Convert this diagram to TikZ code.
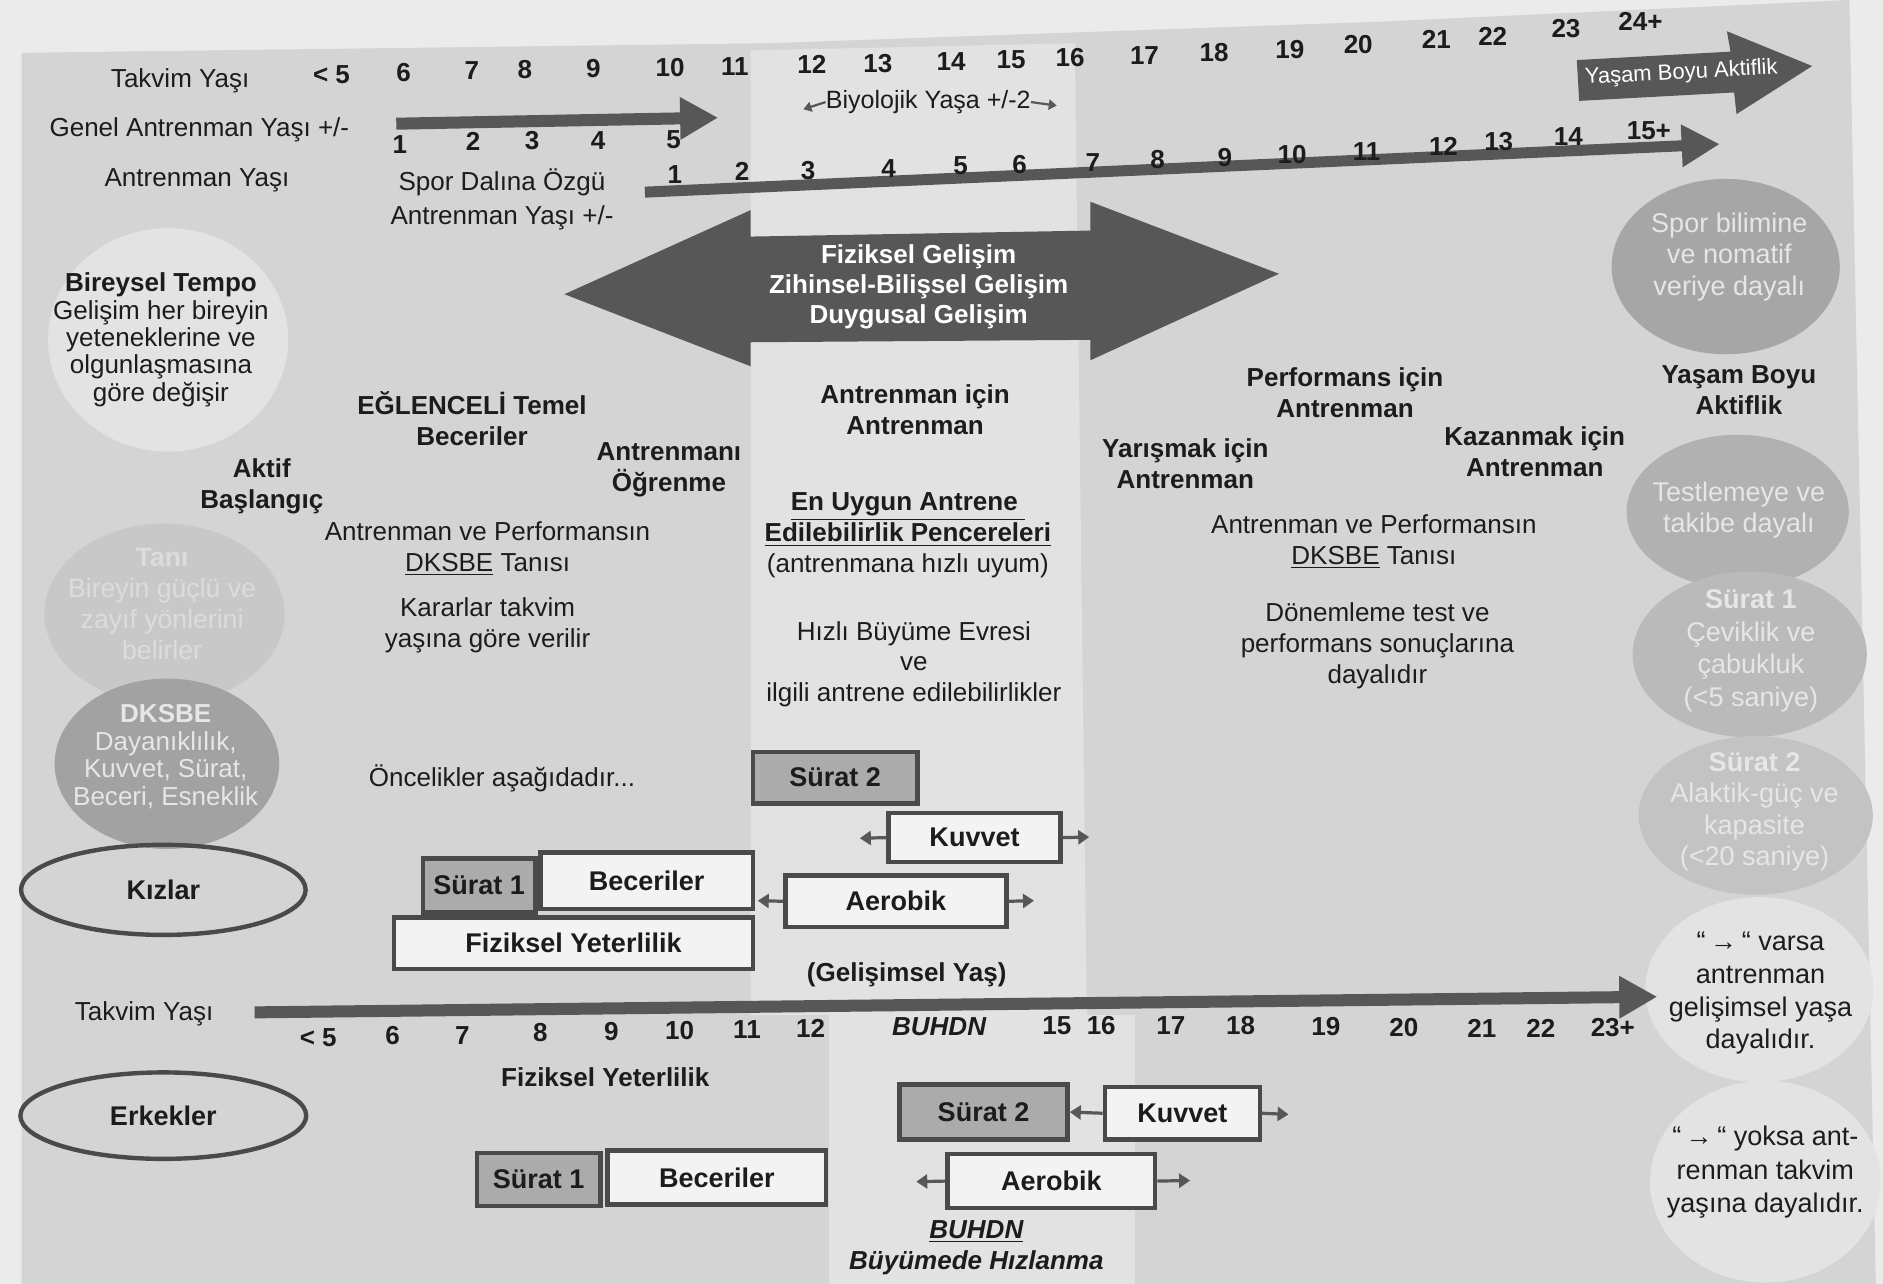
\documentclass[tikz,border=0pt]{standalone}
\usepackage{fontspec}
\setmainfont{Liberation Sans}
\usetikzlibrary{arrows.meta,shapes.geometric}
\definecolor{pagebg}{HTML}{EBEBEB}
\definecolor{panel}{HTML}{D4D4D4}
\definecolor{lightband}{HTML}{E2E2E2}
\definecolor{darkarrow}{HTML}{575757}
\definecolor{ink}{HTML}{1C1C1C}
\definecolor{boxline}{HTML}{4A4A4A}
\definecolor{grayfill}{HTML}{ABABAB}
\definecolor{boxwhite}{HTML}{F3F3F3}
\definecolor{blobLight}{HTML}{E3E3E3}
\definecolor{blobTani}{HTML}{C8C8C8}
\definecolor{blobDk}{HTML}{A2A2A2}
\definecolor{blobSpor}{HTML}{A6A6A6}
\definecolor{blobTest}{HTML}{B1B1B1}
\definecolor{blobSa}{HTML}{BABABA}
\definecolor{blobSb}{HTML}{C3C3C3}
\definecolor{faint}{HTML}{DCDCDC}
\definecolor{paletxt}{HTML}{E6E6E6}
\newcommand\myfs{\fontsize{13}{15.5}\selectfont}
\newcommand\mylg{\fontsize{13.5}{16}\selectfont}
\begin{document}
\begin{tikzpicture}[x=0.6pt,y=-0.6pt,
  txt/.style={font=\myfs,text=ink,align=center,inner sep=0pt},
  btxt/.style={font=\myfs\bfseries,text=ink,align=center,inner sep=0pt},
  num/.style={font=\myfs\bfseries,text=ink,inner sep=0pt},
  bigarr/.style={draw=darkarrow,line width=6pt,-{Triangle[length=19pt,width=20pt]}},
  sarr/.style={draw=darkarrow,line width=1.6pt,-{Triangle[length=5.5pt,width=7pt]}},
  tarr/.style={draw=darkarrow,line width=1.1pt,-{Triangle[length=4pt,width=5pt]}},
  sz/.style 2 args={minimum width=#1*0.6pt,minimum height=#2*0.6pt},
  box/.style={draw=boxline,line width=2.2pt,font=\mylg\bfseries,text=ink,inner sep=0pt},
  wbox/.style={box,fill=boxwhite},
  gbox/.style={box,fill=grayfill},
  blob/.style={ellipse,inner sep=0pt},
  oval/.style={ellipse,draw=boxline,line width=2.2pt,font=\mylg\bfseries,text=ink,inner sep=0pt}
]
\useasboundingbox (0,0) rectangle (1568,1069);
% ---------- background ----------
\fill[pagebg] (0,0) rectangle (1568,1069);
\fill[panel] (18,44) -- (640,36) -- (1150,18) -- (1540,0) -- (1562,1069) -- (18,1069) -- cycle;
\fill[lightband] (625,42) -- (895,36) -- (905,845) -- (625,845) -- cycle;
\fill[lightband] (690,845) rectangle (945,1069);

% ---------- circles ----------
\node[blob,fill=blobLight,sz={200}{186}] (cBir) at (140,283) {};
\node[blob,fill=blobTani,sz={200}{150}] (cTani) at (137,511) {};
\node[blob,fill=blobDk,sz={187}{142}] (cDk) at (139,636) {};
\node[blob,fill=blobSpor,sz={190}{146}] (cSpor) at (1437,222) {};
\node[blob,fill=blobTest,sz={185}{128}] (cTest) at (1447,426) {};
\node[blob,fill=blobSa,sz={195}{138}] (cSa) at (1457,545) {};
\node[blob,fill=blobSb,sz={195}{132}] (cSb) at (1462,679) {};
\node[blob,fill=blobLight,sz={190}{154}] (cVar) at (1465,824) {};
\node[blob,fill=blobLight,sz={192}{168}] (cYok) at (1470,984) {};

\node[txt,font=\fontsize{13}{13.7}\selectfont] (tBir) at (134,283)
  {{\bfseries Bireysel Tempo}\\Gelişim her bireyin\\yeteneklerine ve\\olgunlaşmasına\\göre değişir};
\node[txt,text=faint,font=\fontsize{13.3}{15.4}\selectfont] (tTani) at (135,503)
  {{\bfseries Tanı}\\Bireyin güçlü ve\\zayıf yönlerini\\belirler};
\node[txt,text=paletxt,font=\fontsize{13}{13.7}\selectfont] (tDk) at (138,630)
  {{\bfseries DKSBE}\\Dayanıklılık,\\Kuvvet, Sürat,\\Beceri, Esneklik};
\node[txt,text=paletxt,font=\fontsize{13.5}{15.6}\selectfont] (tSpor) at (1440,214)
  {Spor bilimine\\ve nomatif\\veriye dayalı};
\node[btxt] (tYasam) at (1448,325) {Yaşam Boyu\\Aktiflik};
\node[txt,text=paletxt,font=\fontsize{13.5}{15.6}\selectfont] (tTest) at (1448,425)
  {Testlemeye ve\\takibe dayalı};
\node[txt,text=paletxt,font=\fontsize{13.5}{16.2}\selectfont] (tSa) at (1458,542)
  {{\bfseries Sürat 1}\\Çeviklik ve\\çabukluk\\(<5 saniye)};
\node[txt,text=paletxt,font=\fontsize{13.5}{15.8}\selectfont] (tSb) at (1461,676)
  {{\bfseries Sürat 2}\\Alaktik-güç ve\\kapasite\\(<20 saniye)};
\node[txt,font=\fontsize{13.5}{16.4}\selectfont] (tVar) at (1466,827)
  {“\,→\,“ varsa\\antrenman\\gelişimsel yaşa\\dayalıdır.};
\node[txt,font=\fontsize{13.5}{16.5}\selectfont] (tYok) at (1470,976)
  {“\,→\,“ yoksa ant-\\renman takvim\\yaşına dayalıdır.};

% ---------- top rows ----------
\node[txt] (lTak) at (150,67) {Takvim Yaşı};
\node[txt] (lGen) at (166,108) {Genel Antrenman Yaşı +/-};
\node[txt] (lAnt) at (164,150) {Antrenman Yaşı};
\foreach \lab/\x/\y [count=\i] in {< 5/276/62,6/336/60,7/393/59,8/437/58,9/494/57,10/558/56,11/612/55,12/676/54,13/731/53,14/792/51,15/842/50,16/891/48,17/953/46,18/1011/44,19/1074/41,20/1131/37,21/1196/33,22/1243/30,23/1304/24,24+/1366/18}
  \node[num] (tn\i) at (\x,\y) {\lab};
\coordinate (gaS) at (330,103);
\coordinate (gaE) at (598,98);
\draw[bigarr] (gaS) -- (gaE);
\foreach \lab/\x/\y [count=\i] in {1/333/120,2/394/118,3/443/117,4/498/117,5/561/116}
  \node[num] (gn\i) at (\x,\y) {\lab};
\node[txt,font=\fontsize{13}{16.6}\selectfont] (lSpor) at (418,166) {Spor Dalına Özgü\\Antrenman Yaşı +/-};
\coordinate (aaS) at (537,160);
\coordinate (aaE) at (1432,120);
\draw[bigarr,line width=5.5pt] (aaS) -- (aaE);
\foreach \lab/\x/\y [count=\i] in {1/562/145,2/618/143,3/673/142,4/740/140,5/800/138,6/849/137,7/910/135,8/964/133,9/1020/131,10/1076/129,11/1138/126,12/1202/122,13/1248/118,14/1306/114,15+/1373/109}
  \node[num] (an\i) at (\x,\y) {\lab};
\node[txt,font=\fontsize{12.5}{15}\selectfont] (lBiyo) at (773,85) {Biyolojik Yaşa +/-2};
\coordinate (biyoL) at (669,91);
\coordinate (biyoR) at (880,88);
\draw[tarr] (lBiyo.west) -- (biyoL);
\draw[tarr] (lBiyo.east) -- (biyoR);

% Yasam Boyu Aktiflik arrow
\fill[darkarrow] (1313,50) -- (1441,43) -- (1438,26) -- (1509,55) -- (1446,95) -- (1444,77) -- (1315,84) -- cycle;
\node[txt,text=white,font=\fontsize{11}{13}\selectfont,rotate=3] (lYBA) at (1400,61) {Yaşam Boyu Aktiflik};

% ---------- double arrow ----------
\fill[darkarrow] (470,245) -- (625,175) -- (625,197) -- (908,192) -- (908,168) -- (1065,228)
  -- (908,300) -- (908,283) -- (625,285) -- (625,305) -- cycle;
\node[btxt,text=white,font=\fontsize{13}{15}\selectfont\bfseries] (lFiz) at (765,239)
  {Fiziksel Gelişim\\Zihinsel-Bilişsel Gelişim\\Duygusal Gelişim};

% ---------- stage texts ----------
\node[btxt] (sEgl) at (393,349) {EĞLENCELİ Temel\\Beceriler};
\node[btxt] (sAkt) at (218,405) {Aktif\\Başlangıç};
\node[btxt] (sOgr) at (557,391) {Antrenmanı\\Öğrenme};
\node[txt] (sDk1) at (406,457) {Antrenman ve Performansın\\\underline{DKSBE} Tanısı};
\node[txt] (sKar) at (406,521) {Kararlar takvim\\yaşına göre verilir};
\node[txt] (sOnc) at (418,648) {Öncelikler aşağıdadır...};
\node[btxt] (sAic) at (762,341) {Antrenman için\\Antrenman};
\node[txt] (sUyg) at (756,446) {{\bfseries\underline{En Uygun Antrene\ }}\\{\bfseries\underline{Edilebilirlik Pencereleri}}\\(antrenmana hızlı uyum)};
\node[txt,font=\fontsize{13}{15.4}\selectfont] (sHiz) at (761,553) {Hızlı Büyüme Evresi\\ve\\ilgili antrene edilebilirlikler};
\node[btxt] (sPer) at (1120,327) {Performans için\\Antrenman};
\node[btxt] (sYar) at (987,386) {Yarışmak için\\Antrenman};
\node[btxt] (sKaz) at (1278,376) {Kazanmak için\\Antrenman};
\node[txt] (sDk2) at (1144,451) {Antrenman ve Performansın\\\underline{DKSBE} Tanısı};
\node[txt] (sDon) at (1147,538) {Dönemleme test ve\\performans sonuçlarına\\dayalıdır};

% ---------- Kizlar ----------
\node[oval,sz={237}{75}] (oKiz) at (136,741) {Kızlar};
\node[gbox,sz={137}{43}] (kS2) at (695.5,647.5) {Sürat 2};
\node[wbox,sz={143}{41}] (kKuv) at (811.5,697.5) {Kuvvet};
\node[gbox,sz={94}{45}] (kS1) at (399,737.5) {Sürat 1};
\node[wbox,sz={177}{47}] (kBec) at (538.5,733.5) {Beceriler};
\node[wbox,sz={184}{43}] (kAer) at (746,750.5) {Aerobik};
\node[wbox,sz={299}{43}] (kFiz) at (477.5,785.5) {Fiziksel Yeterlilik};
\coordinate (kKuvL) at (716,698);
\coordinate (kKuvR) at (907,697);
\coordinate (kAerL) at (631,750);
\coordinate (kAerR) at (861,750);
\draw[sarr] (kKuv.west) -- (kKuvL);
\draw[sarr] (kKuv.east) -- (kKuvR);
\draw[sarr] (kAer.west) -- (kAerL);
\draw[sarr] (kAer.east) -- (kAerR);
\node[btxt] (lGel) at (755,812) {(Gelişimsel Yaş)};

% ---------- bottom axis ----------
\node[txt] (lTak2) at (120,844) {Takvim Yaşı};
\coordinate (baS) at (212,843);
\coordinate (baE) at (1380,830);
\draw[bigarr] (baS) -- (baE);
\foreach \lab/\x/\y [count=\i] in {< 5/265/864,6/327/862,7/385/862,8/450/860,9/509/859,10/566/858,11/622/857,12/675/856,15/880/854,16/917/854,17/975/854,18/1033/854,19/1104/855,20/1169/856,21/1234/856,22/1283/856,23+/1343/856}
  \node[num] (bn\i) at (\x,\y) {\lab};
\node[num,font=\myfs\bfseries\itshape] (bBuh) at (782,855) {BUHDN};

% ---------- Erkekler ----------
\node[btxt] (lFiz2) at (504,897) {Fiziksel Yeterlilik};
\node[oval,sz={238}{72}] (oErk) at (136,929) {Erkekler};
\node[gbox,sz={140}{46}] (eS2) at (819,926) {Sürat 2};
\node[wbox,sz={129}{44}] (eKuv) at (984.5,927) {Kuvvet};
\node[gbox,sz={103}{44}] (eS1) at (448.5,982) {Sürat 1};
\node[wbox,sz={182}{45}] (eBec) at (597,980.5) {Beceriler};
\node[wbox,sz={173}{45}] (eAer) at (875.5,983.5) {Aerobik};
\draw[sarr] (eKuv.west) -- (eS2.east);
\coordinate (eKuvR) at (1073,928);
\coordinate (eAerL) at (763,984);
\coordinate (eAerR) at (991,983);
\draw[sarr] (eKuv.east) -- (eKuvR);
\draw[sarr] (eAer.west) -- (eAerL);
\draw[sarr] (eAer.east) -- (eAerR);
\node[btxt,font=\myfs\bfseries\itshape] (lBuh) at (813,1039) {\underline{BUHDN}\\Büyümede Hızlanma};
\end{tikzpicture}
\end{document}
